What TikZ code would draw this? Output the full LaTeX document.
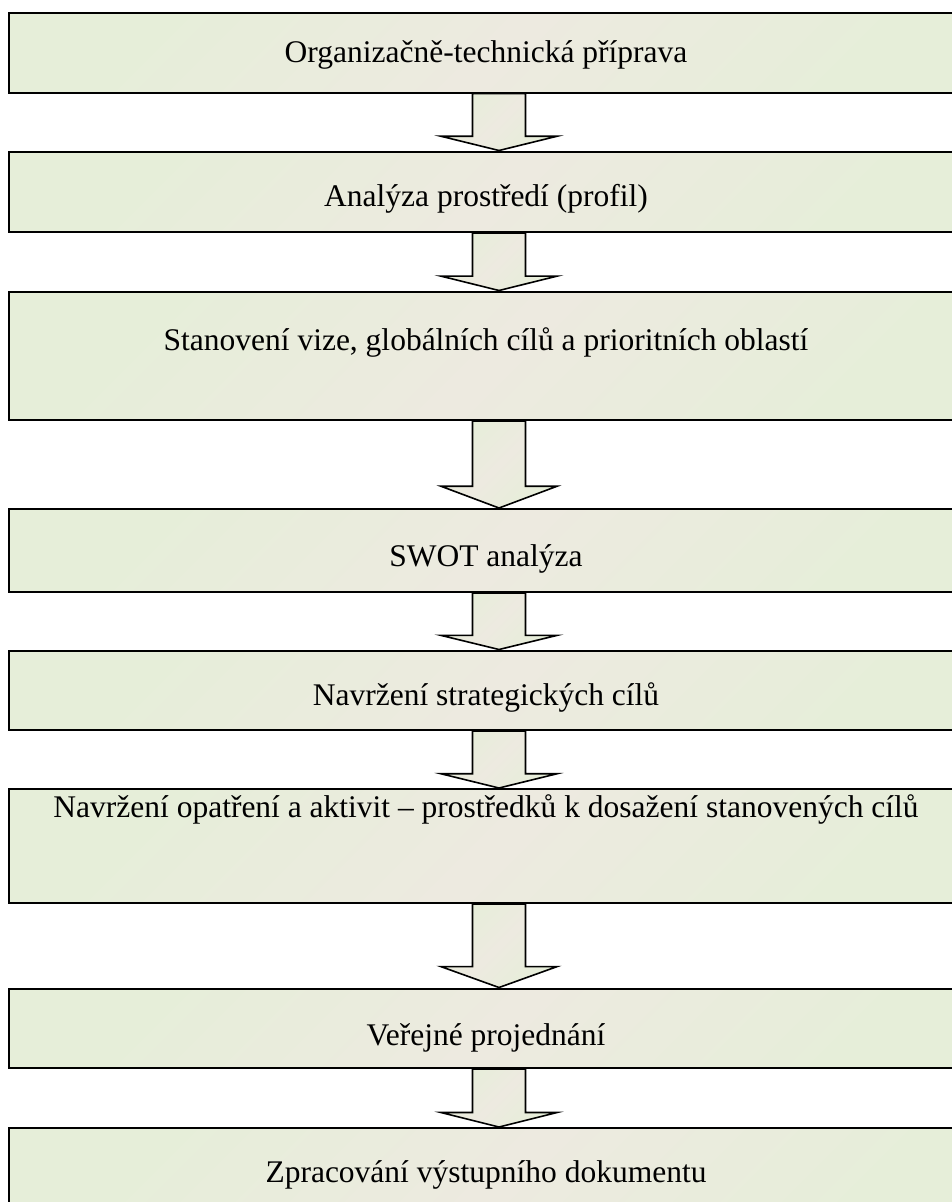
\documentclass[tikz,border=0pt]{standalone}
\usepackage{fontspec}
\setmainfont{Liberation Serif}
\usetikzlibrary{calc}
\definecolor{cg}{RGB}{230,238,217}
\definecolor{cb}{RGB}{237,234,224}
\tikzset{
  grad/.style={top color=cg, bottom color=cg, middle color=cb, shading angle=45},
  stagebox/.style={draw=black, line width=2bp, grad, rectangle, inner sep=0pt,
    minimum width=979bp, anchor=north},
  stagetext/.style={font=\fontsize{31.5bp}{37bp}\selectfont, anchor=base, inner sep=0pt},
  blockarr/.style={draw=black, line width=1.6bp, grad, line join=miter},
}
\newcommand{\flowarrow}[2]{%
  \path[blockarr] let \p1=(#1.south), \p2=(#2.north), \n1={0.25*(\y1-\y2)} in
    ({\x1-26.5bp},\y1) -- ({\x1-26.5bp},{\y2+\n1*1pt}) -- ({\x1-58bp},{\y2+\n1*1pt})
    -- (\x1,\y2) -- ({\x1+58bp},{\y2+\n1*1pt}) -- ({\x1+26.5bp},{\y2+\n1*1pt})
    -- ({\x1+26.5bp},\y1) -- cycle;}
\begin{document}
\begin{tikzpicture}[x=1bp,y=-1bp]
\useasboundingbox (0,0) rectangle (952,1202);
\fill[white] (0,0) rectangle (952,1202);
\clip (0,0) rectangle (952,1202);

\node[stagebox, minimum height=79.8bp] (b1) at (499,11.7) {};
\node[stagebox, minimum height=80.5bp] (b2) at (499,150.5) {};
\node[stagebox, minimum height=128.5bp] (b3) at (499,290.5) {};
\node[stagebox, minimum height=83bp] (b4) at (499,508) {};
\node[stagebox, minimum height=79.5bp] (b5) at (499,649.5) {};
\node[stagebox, minimum height=114bp] (b6) at (499,788) {};
\node[stagebox, minimum height=79.5bp] (b7) at (499,987.5) {};
\node[stagebox, minimum height=110bp] (b8) at (499,1127) {};

\node[stagetext] (t1) at ($(b1.north)+(-13,51)$) {Organizačně-technická příprava};
\node[stagetext] (t2) at ($(b2.north)+(-13,56)$) {Analýza prostředí (profil)};
\node[stagetext] (t3) at ($(b3.north)+(-13,60)$) {Stanovení vize, globálních cílů a prioritních oblastí};
\node[stagetext] (t4) at ($(b4.north)+(-13,58)$) {SWOT analýza};
\node[stagetext] (t5) at ($(b5.north)+(-13,56)$) {Navržení strategických cílů};
\node[stagetext] (t6) at ($(b6.north)+(-13,29)$) {Navržení opatření a aktivit – prostředků k dosažení stanovených cílů};
\node[stagetext] (t7) at ($(b7.north)+(-13,58)$) {Veřejné projednání};
\node[stagetext] (t8) at ($(b8.north)+(-13,55)$) {Zpracování výstupního dokumentu};

\flowarrow{b1}{b2}
\flowarrow{b2}{b3}
\flowarrow{b3}{b4}
\flowarrow{b4}{b5}
\flowarrow{b5}{b6}
\flowarrow{b6}{b7}
\flowarrow{b7}{b8}
\end{tikzpicture}
\end{document}
